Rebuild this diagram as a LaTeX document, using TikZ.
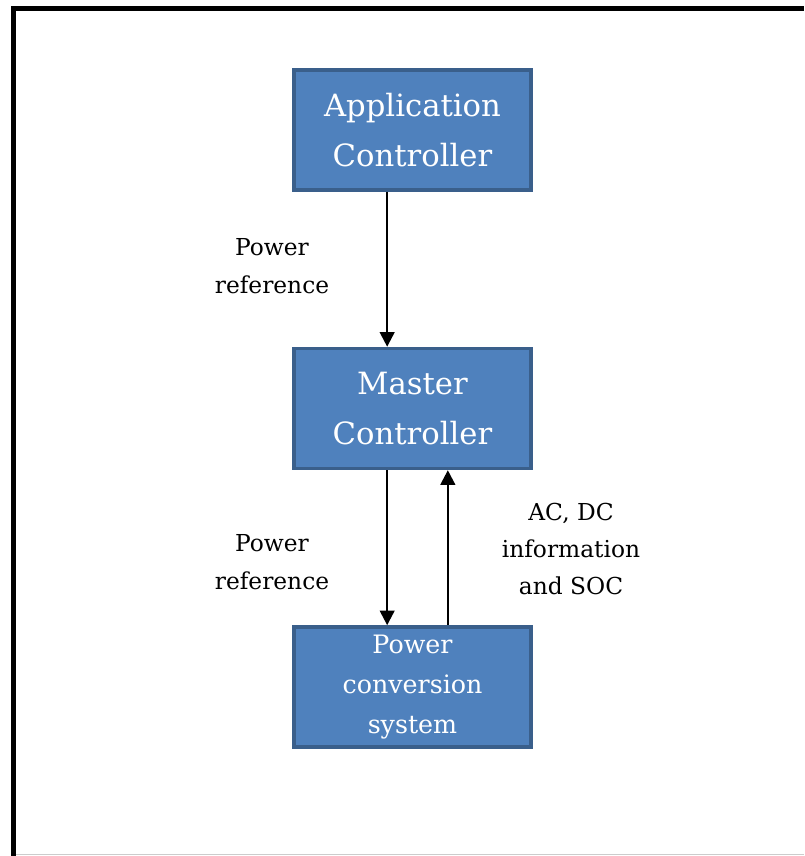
\documentclass[tikz,border=0pt]{standalone}
\usepackage{fontspec}
\setmainfont{DejaVu Serif}
\usepackage{xcolor}
\usetikzlibrary{arrows.meta,positioning}

\definecolor{boxblue}{HTML}{4F81BD}
\definecolor{boxedge}{HTML}{3A5F8B}

\begin{document}
\begin{tikzpicture}[
  x=0.75pt, y=-0.75pt,
  node distance=116.25pt,
  block/.style={draw=boxedge, line width=2.6pt, fill=boxblue,
                minimum width=178pt, minimum height=90pt, align=center,
                text=white, font=\fontsize{23}{37}\selectfont},
  small/.style={font=\fontsize{19}{30}\selectfont},
  lbl/.style={align=center, font=\fontsize{17.5}{28}\selectfont},
  arr/.style={-{Triangle[length=11pt, width=11pt]}, line width=1.7pt}
]
  \useasboundingbox (0,0) rectangle (804,856);

  % frame
  \draw[line width=3.75pt] (13.5,856) -- (13.5,8.5) -- (804,8.5);
  \draw[gray!40, line width=0.8pt] (16,854.5) -- (804,854.5);

  \node[block]                  (app) at (412.5,130) {Application\\Controller};
  \node[block, below=of app]    (mst) {Master\\Controller};
  \node[block, small, below=of mst] (pcs) {Power\\conversion\\system};

  \node[lbl] (ref1) at (272,266) {Power\\reference};
  \node[lbl] (ref2) at (272,562) {Power\\reference};
  \node[lbl] (info) at (571,549) {AC, DC\\information\\and SOC};

  \draw[arr] ([xshift=-19pt]app.south) -- ([xshift=-19pt]mst.north);
  \draw[arr] ([xshift=-19pt]mst.south) -- ([xshift=-19pt]pcs.north);
  \draw[arr] ([xshift=26.5pt]pcs.north) -- ([xshift=26.5pt]mst.south);
\end{tikzpicture}
\end{document}
